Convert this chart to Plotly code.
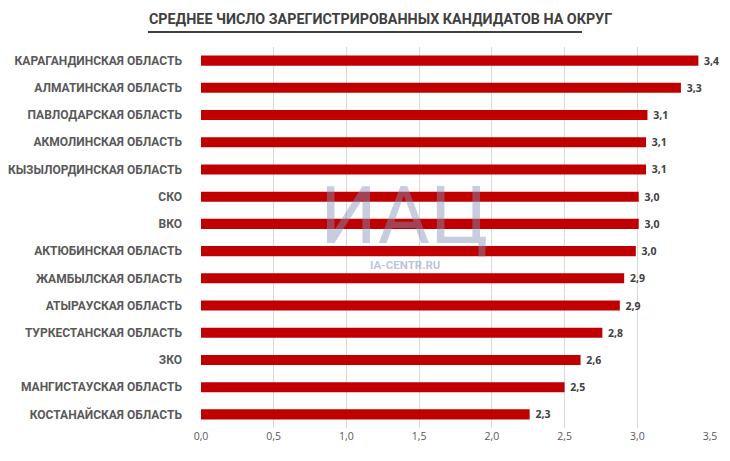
import plotly.graph_objects as go

regions = [
    "КАРАГАНДИНСКАЯ ОБЛАСТЬ",
    "АЛМАТИНСКАЯ ОБЛАСТЬ",
    "ПАВЛОДАРСКАЯ ОБЛАСТЬ",
    "АКМОЛИНСКАЯ ОБЛАСТЬ",
    "КЫЗЫЛОРДИНСКАЯ ОБЛАСТЬ",
    "СКО",
    "ВКО",
    "АКТЮБИНСКАЯ ОБЛАСТЬ",
    "ЖАМБЫЛСКАЯ ОБЛАСТЬ",
    "АТЫРАУСКАЯ ОБЛАСТЬ",
    "ТУРКЕСТАНСКАЯ ОБЛАСТЬ",
    "ЗКО",
    "МАНГИСТАУСКАЯ ОБЛАСТЬ",
    "КОСТАНАЙСКАЯ ОБЛАСТЬ",
]
avg_candidates = [3.42, 3.30, 3.07, 3.06, 3.06, 3.01, 3.01, 2.99, 2.91, 2.88, 2.76, 2.61, 2.50, 2.26]
x_ticks = [0, 0.5, 1.0, 1.5, 2.0, 2.5, 3.0, 3.5]

title_text = "СРЕДНЕЕ ЧИСЛО ЗАРЕГИСТРИРОВАННЫХ КАНДИДАТОВ НА ОКРУГ"
label_font = "Roboto, Liberation Sans, sans-serif"

# page body has an 8px default margin: figure is laid out 8px smaller
W, H = 722, 453
ML, MR, MT, MB = 193, 20, 39, 33
PW, PH = W - ML - MR, H - MT - MB


def px_x(x):  # reference pixel -> paper x
    return (x - 8 - ML) / PW


def px_y(y):  # reference pixel -> paper y
    return 1 - (y - 8 - MT) / PH


fig = go.Figure()
fig.add_trace(go.Bar(
    x=avg_candidates,
    y=regions,
    orientation="h",
    marker=dict(color="#c00000", line=dict(width=0)),
    width=0.37,
    texttemplate=" %{x:.1f}",
    textposition="outside",
    constraintext="none",
    cliponaxis=False,
    textfont=dict(family="Open Sans, sans-serif", size=10.5, color="#404040", weight="bold"),
    hoverinfo="skip",
))

fig.update_layout(
    width=W, height=H,
    margin=dict(l=ML, r=MR, t=MT, b=MB),
    paper_bgcolor="white",
    plot_bgcolor="white",
    separators=", ",
    showlegend=False,
    annotations=[
        dict(text=title_text, xref="paper", yref="paper",
             x=px_x(380), y=px_y(19),
             showarrow=False, xanchor="center", yanchor="middle",
             font=dict(family=label_font, size=14.3, color="#404040", weight="bold")),
        dict(text="ИАЦ", xref="paper", yref="paper",
             x=px_x(404), y=px_y(216),
             showarrow=False, xanchor="center", yanchor="middle",
             font=dict(family="Roboto, sans-serif", size=80, color="rgba(130,145,185,0.45)")),
        dict(text="IA-CENTR.RU", xref="paper", yref="paper",
             x=px_x(405), y=px_y(265),
             showarrow=False, xanchor="center", yanchor="middle",
             font=dict(family=label_font, size=11.5, color="rgba(130,145,185,0.55)", weight="bold")),
    ],
    xaxis=dict(
        range=[0, 3.5],
        tickvals=x_ticks,
        tickformat=".1f",
        showgrid=True, gridcolor="#d9d9d9", gridwidth=1,
        zeroline=False,
        showline=False,
        ticks="",
        automargin=False,
        tickfont=dict(family="Open Sans, sans-serif", size=10.5, color="#595959"),
    ),
    yaxis=dict(
        autorange="reversed",
        showgrid=False,
        ticks="",
        automargin=False,
        ticklabelstandoff=18,
        tickfont=dict(family=label_font, size=12, color="#595959", weight="bold"),
    ),
    shapes=[
        dict(type="line", xref="paper", yref="paper",
             x0=px_x(148), x1=px_x(582),
             y0=px_y(32), y1=px_y(32),
             line=dict(color="#404040", width=2)),
    ],
)

fig.write_html("out.html")
